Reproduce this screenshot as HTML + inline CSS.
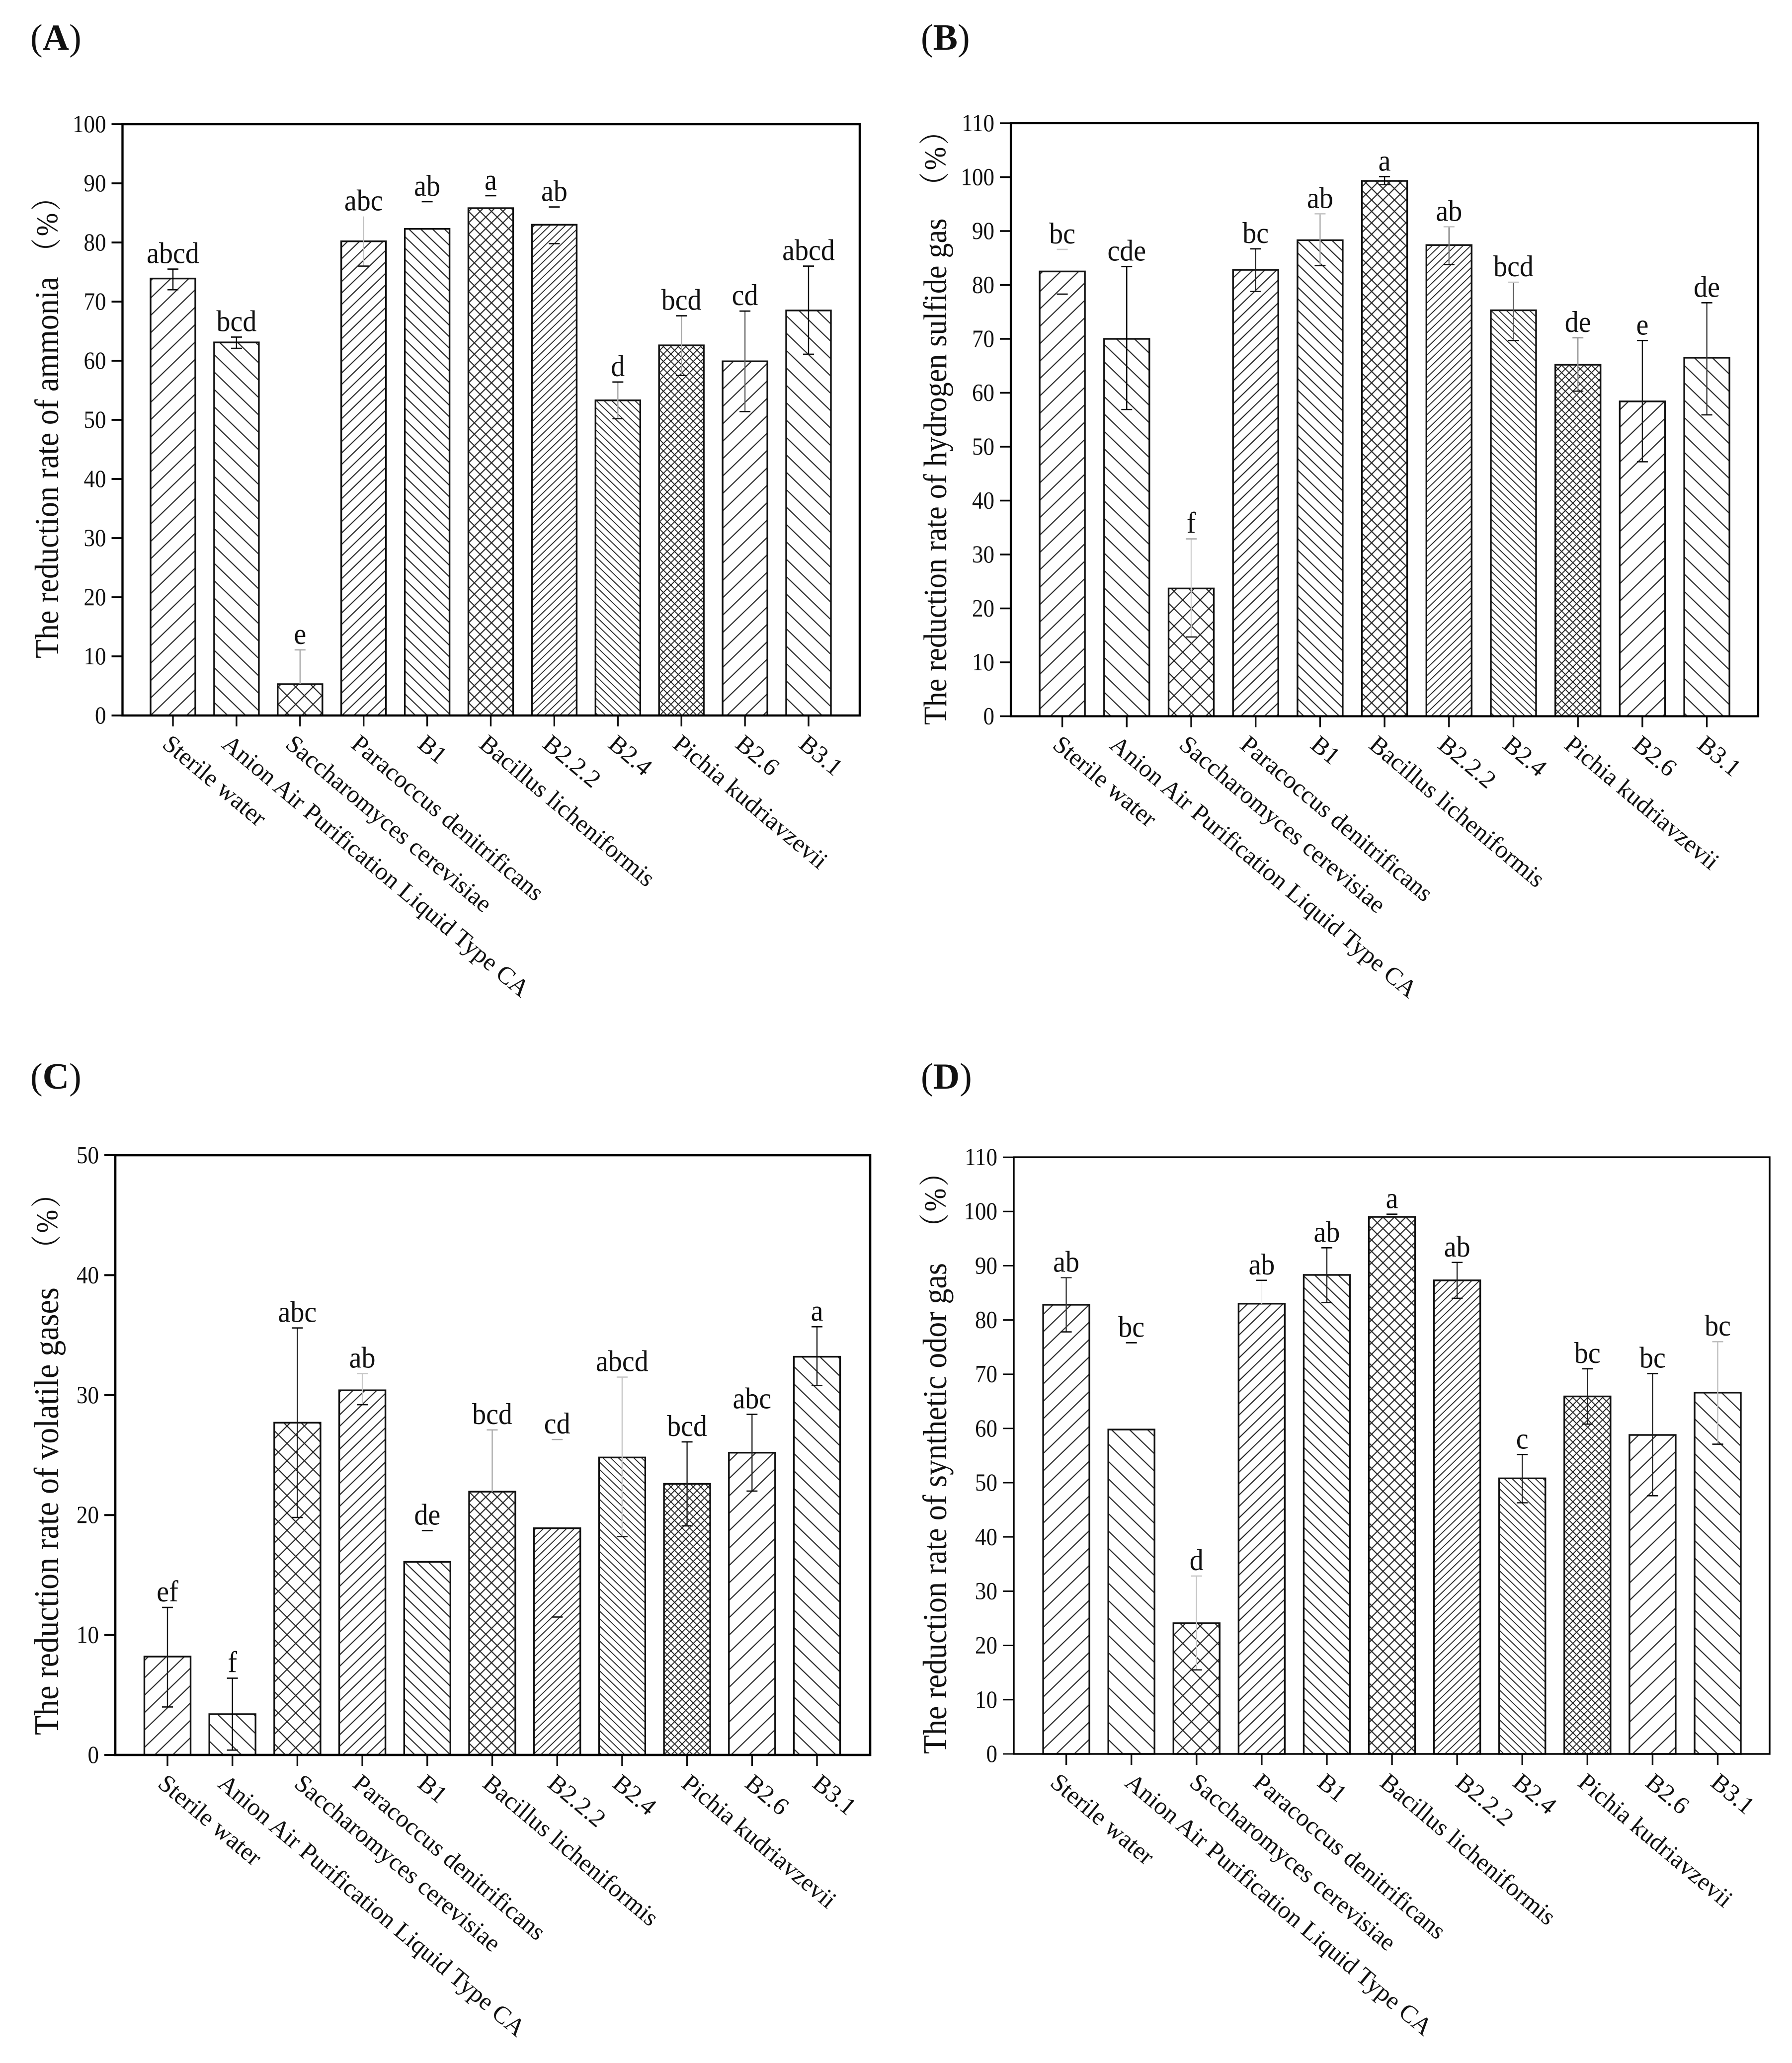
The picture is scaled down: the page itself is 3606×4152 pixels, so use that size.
<!DOCTYPE html>
<html lang="en">
<head>
<meta charset="utf-8">
<title>Reduction rates of odor gases</title>
<style>
html,body{margin:0;padding:0;background:#fff;}
svg{display:block;}
text{font-family:"Liberation Serif","Noto Serif CJK SC",serif;fill:#111;}
</style>
</head>
<body>
<svg id="figure" xmlns="http://www.w3.org/2000/svg" width="3606" height="4152" viewBox="0 0 3606 4152">
<rect x="0" y="0" width="3606" height="4152" fill="#fff"/>
<defs id="defs"></defs>
</svg>
<script>
const categories = ["Sterile water","Anion Air Purification Liquid Type CA","Saccharomyces cerevisiae","Paracoccus denitrificans","B1","Bacillus licheniformis","B2.2.2","B2.4","Pichia kudriavzevii","B2.6","B3.1"];

const ticksA = [0,10,20,30,40,50,60,70,80,90,100];
const valuesA = [73.9,63.1,5.3,80.2,82.3,85.8,83.0,53.3,62.6,59.9,68.5];
const upperA = [75.5,64.0,11.1,84.4,86.9,87.9,86.0,56.4,67.6,68.4,76.0];
const lowerA = [72.0,62.1,5.3,76.0,82.3,85.8,79.8,50.2,57.5,51.4,61.1];
const lettersA = ["abcd","bcd","e","abc","ab","a","ab","d","bcd","cd","abcd"];
const stemToneA = [0,0,170,190,255,255,255,170,170,100,0];
const capToneA = [0,0,170,255,0,0,0,0,0,0,0];
const labelShiftA = [-24,-32,-32,-28,-22,-26,-26,-22,-20,-22,-22];

const ticksB = [0,10,20,30,40,50,60,70,80,90,100,110];
const valuesB = [82.5,70.0,23.7,82.8,88.3,99.3,87.4,75.3,65.2,58.4,66.5];
const upperB = [86.6,83.4,32.9,86.7,93.2,100.1,90.8,80.5,70.2,69.7,76.7];
const lowerB = [78.3,56.9,14.7,78.8,83.6,98.6,83.8,69.7,60.3,47.2,55.9];
const lettersB = ["bc","cde","f","bc","ab","a","ab","bcd","de","e","de"];
const stemToneB = [255,0,210,30,170,0,120,90,150,30,60];
const capToneB = [200,0,170,0,200,0,200,200,150,0,0];
const labelShiftB = [-22,-37,-27,-34,-22,-34,-25,-24,-30,-22,-22];

const ticksC = [0,10,20,30,40,50];
const valuesC = [8.2,3.4,27.7,30.4,16.1,21.95,18.9,24.8,22.6,25.2,33.2];
const upperC = [12.3,6.4,35.6,31.8,18.7,27.1,26.3,31.5,26.1,28.4,35.7];
const lowerC = [4.0,0.4,19.8,29.2,16.1,21.95,11.5,18.2,19.1,22.0,30.8];
const lettersC = ["ef","f","abc","ab","de","bcd","cd","abcd","bcd","abc","a"];
const stemToneC = [30,0,30,200,255,170,255,200,40,40,20];
const capToneC = [0,0,0,200,0,170,170,200,0,0,0];
const labelShiftC = [-22,-32,-9,-22,-22,-22,-22,-22,-14,-17,-12];

const ticksD = [0,10,20,30,40,50,60,70,80,90,100,110];
const valuesD = [82.8,59.8,24.1,83.0,88.3,99.0,87.3,50.8,65.9,58.8,66.6];
const upperD = [87.8,75.8,32.8,87.3,93.3,99.5,90.6,55.2,71.0,70.1,76.0];
const lowerD = [77.8,59.8,15.5,83.0,83.2,99.0,84.0,46.3,60.8,47.6,57.1];
const lettersD = ["ab","bc","d","ab","ab","a","ab","c","bc","bc","bc"];
const stemToneD = [60,255,200,240,30,255,30,30,30,30,190];
const capToneD = [60,0,200,0,0,0,0,0,0,0,190];
const labelShiftD = [-35,-16,-17,-20,-22,-27,-6,-22,-22,-17,-17];

const hatchAngles = [-44,44,45,-44,44,45,-44,44,45,-44,44];
const hatchSpacing = [35,35,35,23,23,23,15,15,15,35,35];
const hatchCross = [false,false,true,false,false,true,false,false,true,false,false];

const NS = "http://www.w3.org/2000/svg";
const svg = document.getElementById("figure");
const defs = document.getElementById("defs");
const TEXT_STRETCH = 1.08;

function make(tag, attrs, parent){
  const node = document.createElementNS(NS, tag);
  for (const k in attrs) node.setAttribute(k, attrs[k]);
  parent.appendChild(node);
  return node;
}
function drawText(parent, str, x, y, size, anchor, rot, stretch){
  const t = make("text", {
    "font-size": size,
    "text-anchor": anchor,
    transform: "translate(" + x + "," + y + ") rotate(" + rot + ") scale(1," + stretch + ")"
  }, parent);
  t.textContent = str;
  return t;
}
function tone(v){ return "rgb(" + v + "," + v + "," + v + ")"; }

hatchAngles.forEach(function(angle, i){
  const gap = hatchSpacing[i] * Math.cos(Math.abs(angle) * Math.PI / 180);
  const p = make("pattern", {
    id: "hatch-" + i,
    patternUnits: "userSpaceOnUse",
    width: gap,
    height: gap,
    patternTransform: "rotate(" + angle + ")"
  }, defs);
  const sw = hatchSpacing[i] < 20 ? 1.9 : 2.2;
  make("line", {x1:0, y1:gap/2, x2:gap, y2:gap/2, stroke:"#262626", "stroke-width":sw}, p);
  if (hatchCross[i]) {
    make("line", {x1:gap/2, y1:0, x2:gap/2, y2:gap, stroke:"#262626", "stroke-width":sw}, p);
  }
});

function drawPanel(cfg){
  const g = make("g", {}, svg);
  
  

  const yScale = function(v){ return cfg.bottom - (v / cfg.max) * (cfg.bottom - cfg.top); };
  const xScale = function(i){ return cfg.firstX + i * (cfg.lastX - cfg.firstX) / (categories.length - 1); };

  const panelLabel = make("text", {"font-size":74, x:cfg.labelX, y:cfg.labelY}, g);
  
  
  const open = make("tspan", {}, panelLabel); open.textContent = "(";
  const letter = make("tspan", {"font-weight":"bold"}, panelLabel); letter.textContent = cfg.key.toUpperCase();
  const close = make("tspan", {}, panelLabel); close.textContent = ")";

  cfg.values.forEach(function(v, i){
    const cx = xScale(i);
    const bar = make("rect", {
      x: cx - cfg.barWidth / 2,
      y: yScale(v),
      width: cfg.barWidth,
      height: yScale(0) - yScale(v),
      fill: "url(#hatch-" + i + ")",
      stroke: "#111",
      "stroke-width": 3.4
    }, g);
    
    

    const hiY = yScale(cfg.upper[i]);
    const loY = yScale(cfg.lower[i]);
    if (cfg.stemTone[i] < 255) {
      const stem = make("line", {x1:cx, x2:cx, y1:hiY, y2:loY, stroke:tone(cfg.stemTone[i]), "stroke-width":2.4}, g);
      
      
    }
    if (cfg.capTone[i] < 255) {
      const capHi = make("line", {x1:cx - 11, x2:cx + 11, y1:hiY, y2:hiY, stroke:tone(cfg.capTone[i]), "stroke-width":2.6}, g);
      
      
    }
    if (cfg.lower[i] < v) {
      const capLo = make("line", {x1:cx - 11, x2:cx + 11, y1:loY, y2:loY, stroke:"#111", "stroke-width":2.6}, g);
      
      
    }

    const sig = drawText(g, cfg.letters[i], cx, hiY - 12, 56, "middle", 0, TEXT_STRETCH);
    
    

    const tick = make("line", {x1:cx, x2:cx, y1:cfg.bottom, y2:cfg.bottom + 22, stroke:"#111", "stroke-width":3.4}, g);
    
    

    const cat = drawText(g, categories[i], cx + cfg.labelShift[i], cfg.bottom + 62, 50, "start", 40, 1);
    
    
  });

  const frame = make("rect", {
    x: cfg.left, y: cfg.top,
    width: cfg.right - cfg.left, height: cfg.bottom - cfg.top,
    fill: "none", stroke: "#000", "stroke-width": cfg.frameWidth
  }, g);
  
  

  cfg.ticks.forEach(function(t){
    const y = yScale(t);
    const mark = make("line", {x1:cfg.left - 22, x2:cfg.left, y1:y, y2:y, stroke:"#000", "stroke-width":cfg.frameWidth - 0.6}, g);
    
    
    const lab = drawText(g, String(t), cfg.left - 33, y + 16, 45, "end", 0, 1.1);
    
    
  });

  const title = drawText(g, cfg.title, cfg.titleX, cfg.titleY, cfg.titleSize, "start", -90, 1.1);
  
  

  const unit = drawText(g, "（%）", cfg.titleX - 2, cfg.unitY, 56, "middle", -90, 1.1);
  unit.setAttribute("letter-spacing", "4");
  
  
}

drawPanel({key:"a", title:"The reduction rate of ammonia", titleSize:62, titleX:117, titleY:1325, unitY:450,
  left:246.5, right:1730, top:250, bottom:1440, max:100, firstX:348, lastX:1627, barWidth:90,
  labelX:61, labelY:100, frameWidth:4.4, ticks:ticksA, values:valuesA, upper:upperA, lower:lowerA,
  letters:lettersA, stemTone:stemToneA, capTone:capToneA, labelShift:labelShiftA});

drawPanel({key:"b", title:"The reduction rate of hydrogen sulfide gas", titleSize:60, titleX:1904, titleY:1459, unitY:317,
  left:2034, right:3538, top:248, bottom:1441.5, max:110, firstX:2137.6, lastX:3434.6, barWidth:91,
  labelX:1853, labelY:100, frameWidth:4.2, ticks:ticksB, values:valuesB, upper:upperB, lower:lowerB,
  letters:lettersB, stemTone:stemToneB, capTone:capToneB, labelShift:labelShiftB});

drawPanel({key:"c", title:"The reduction rate of volatile gases", titleSize:64, titleX:117, titleY:3492, unitY:2456,
  left:232, right:1751, top:2325, bottom:3532, max:50, firstX:337, lastX:1644, barWidth:93,
  labelX:61, labelY:2191, frameWidth:4.6, ticks:ticksC, values:valuesC, upper:upperC, lower:lowerC,
  letters:lettersC, stemTone:stemToneC, capTone:capToneC, labelShift:labelShiftC});

drawPanel({key:"d", title:"The reduction rate of synthetic odor gas", titleSize:62, titleX:1904, titleY:3530, unitY:2413,
  left:2040, right:3561, top:2329, bottom:3530, max:110, firstX:2145.6, lastX:3456.5, barWidth:93,
  labelX:1853, labelY:2191, frameWidth:3.4, ticks:ticksD, values:valuesD, upper:upperD, lower:lowerD,
  letters:lettersD, stemTone:stemToneD, capTone:capToneD, labelShift:labelShiftD});
</script>
</body>
</html>
